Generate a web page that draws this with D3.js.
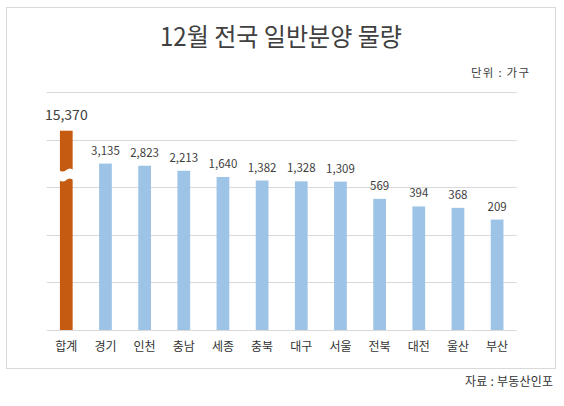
<!DOCTYPE html>
<html>
<head>
<meta charset="utf-8">
<script src="https://cdn.jsdelivr.net/npm/d3@7"></script>
<style>
  body { margin: 0; background: #fff; }
  svg { display: block; font-family: "Noto Sans CJK KR", "Noto Sans", sans-serif; }
</style>
</head>
<body>
<svg id="chart" width="564" height="406"></svg>
<script>
// 12월 전국 일반분양 물량 (단위: 가구)
const regions = ['합계', '경기', '인천', '충남', '세종', '충북', '대구', '서울', '전북', '대전', '울산', '부산'];
const units = [15370, 3135, 2823, 2213, 1640, 1382, 1328, 1309, 569, 394, 368, 209];
const gridTicks = [1, 10, 100, 1000, 10000, 100000];
const breakAt = 1800; // where the total bar is cut

const svg = d3.select('#chart');
const textColor = '#404040';

// outer frame
svg.append('rect')
    .attr('x', 6.5).attr('y', 7.5)
    .attr('width', 549).attr('height', 361)
    .attr('fill', 'none')
    .attr('stroke', '#d9d9d9');

svg.append('text')
    .attr('x', 281).attr('y', 46)
    .attr('text-anchor', 'middle')
    .attr('font-size', 25)
    .attr('textLength', 242)
    .attr('lengthAdjust', 'spacingAndGlyphs')
    .attr('fill', textColor)
    .text('12월 전국 일반분양 물량');

svg.append('text')
    .attr('x', 529).attr('y', 77)
    .attr('text-anchor', 'end')
    .attr('font-size', 11.5)
    .attr('textLength', 58)
    .attr('lengthAdjust', 'spacing')
    .attr('fill', textColor)
    .text('단위 : 가구');

svg.append('text')
    .attr('x', 553).attr('y', 386)
    .attr('text-anchor', 'end')
    .attr('font-size', 12)
    .attr('textLength', 88)
    .attr('lengthAdjust', 'spacing')
    .attr('fill', '#333')
    .text('자료 : 부동산인포');

const x = d3.scaleBand()
    .domain(regions)
    .range([46.7, 516.7])
    .paddingInner(0.675)
    .paddingOuter(0.3375);

// log scale, one decade per gridline
const y = d3.scaleLog()
    .domain([1, 100000])
    .range([330, 92]);

svg.append('g')
    .selectAll('line')
    .data(gridTicks)
    .join('line')
    .attr('x1', 46.7).attr('x2', 516.7)
    .attr('y1', d => Math.round(y(d)) + 0.5)
    .attr('y2', d => Math.round(y(d)) + 0.5)
    .attr('stroke', '#d9d9d9');

const data = regions.map((r, i) => ({ region: r, value: units[i] }));

svg.append('g')
    .selectAll('rect')
    .data(data)
    .join('rect')
    .attr('x', d => x(d.region))
    .attr('y', d => y(d.value))
    .attr('width', x.bandwidth())
    .attr('height', d => y(1) - y(d.value))
    .attr('fill', (d, i) => i === 0 ? '#c55a11' : '#9dc3e6');

// break mark on the total bar
const bx = x(regions[0]);
const bw = x.bandwidth();
const by = y(breakAt);
const wave = (x0, x1, yy, amp) => {
  const mid = (x0 + x1) / 2;
  return `L${x0},${yy} Q${(x0 + mid) / 2},${yy + amp} ${mid},${yy} Q${(mid + x1) / 2},${yy - amp} ${x1},${yy}`;
};
svg.append('path')
    .attr('d', `M${bx - 1},${by - 5} ${wave(bx - 1, bx + bw + 1, by - 5, 3).slice(1)} L${bx + bw + 1},${by + 5} ` +
        `Q${bx + bw * 0.75},${by + 2} ${bx + bw / 2},${by + 5} Q${bx + bw * 0.25},${by + 8} ${bx - 1},${by + 5} Z`)
    .attr('fill', '#fff');

svg.append('g')
    .selectAll('text')
    .data(data)
    .join('text')
    .attr('x', d => x(d.region) + x.bandwidth() / 2)
    .attr('y', (d, i) => y(d.value) - (i === 0 ? 11 : 9))
    .attr('text-anchor', 'middle')
    .attr('font-size', (d, i) => i === 0 ? 14 : 11.5)
    .attr('fill', textColor)
    .text(d => d3.format(',')(d.value));

svg.append('g')
    .selectAll('text')
    .data(regions)
    .join('text')
    .attr('x', d => x(d) + x.bandwidth() / 2)
    .attr('y', 351)
    .attr('text-anchor', 'middle')
    .attr('font-size', 12)
    .attr('fill', '#333')
    .text(d => d);
</script>
</body>
</html>
